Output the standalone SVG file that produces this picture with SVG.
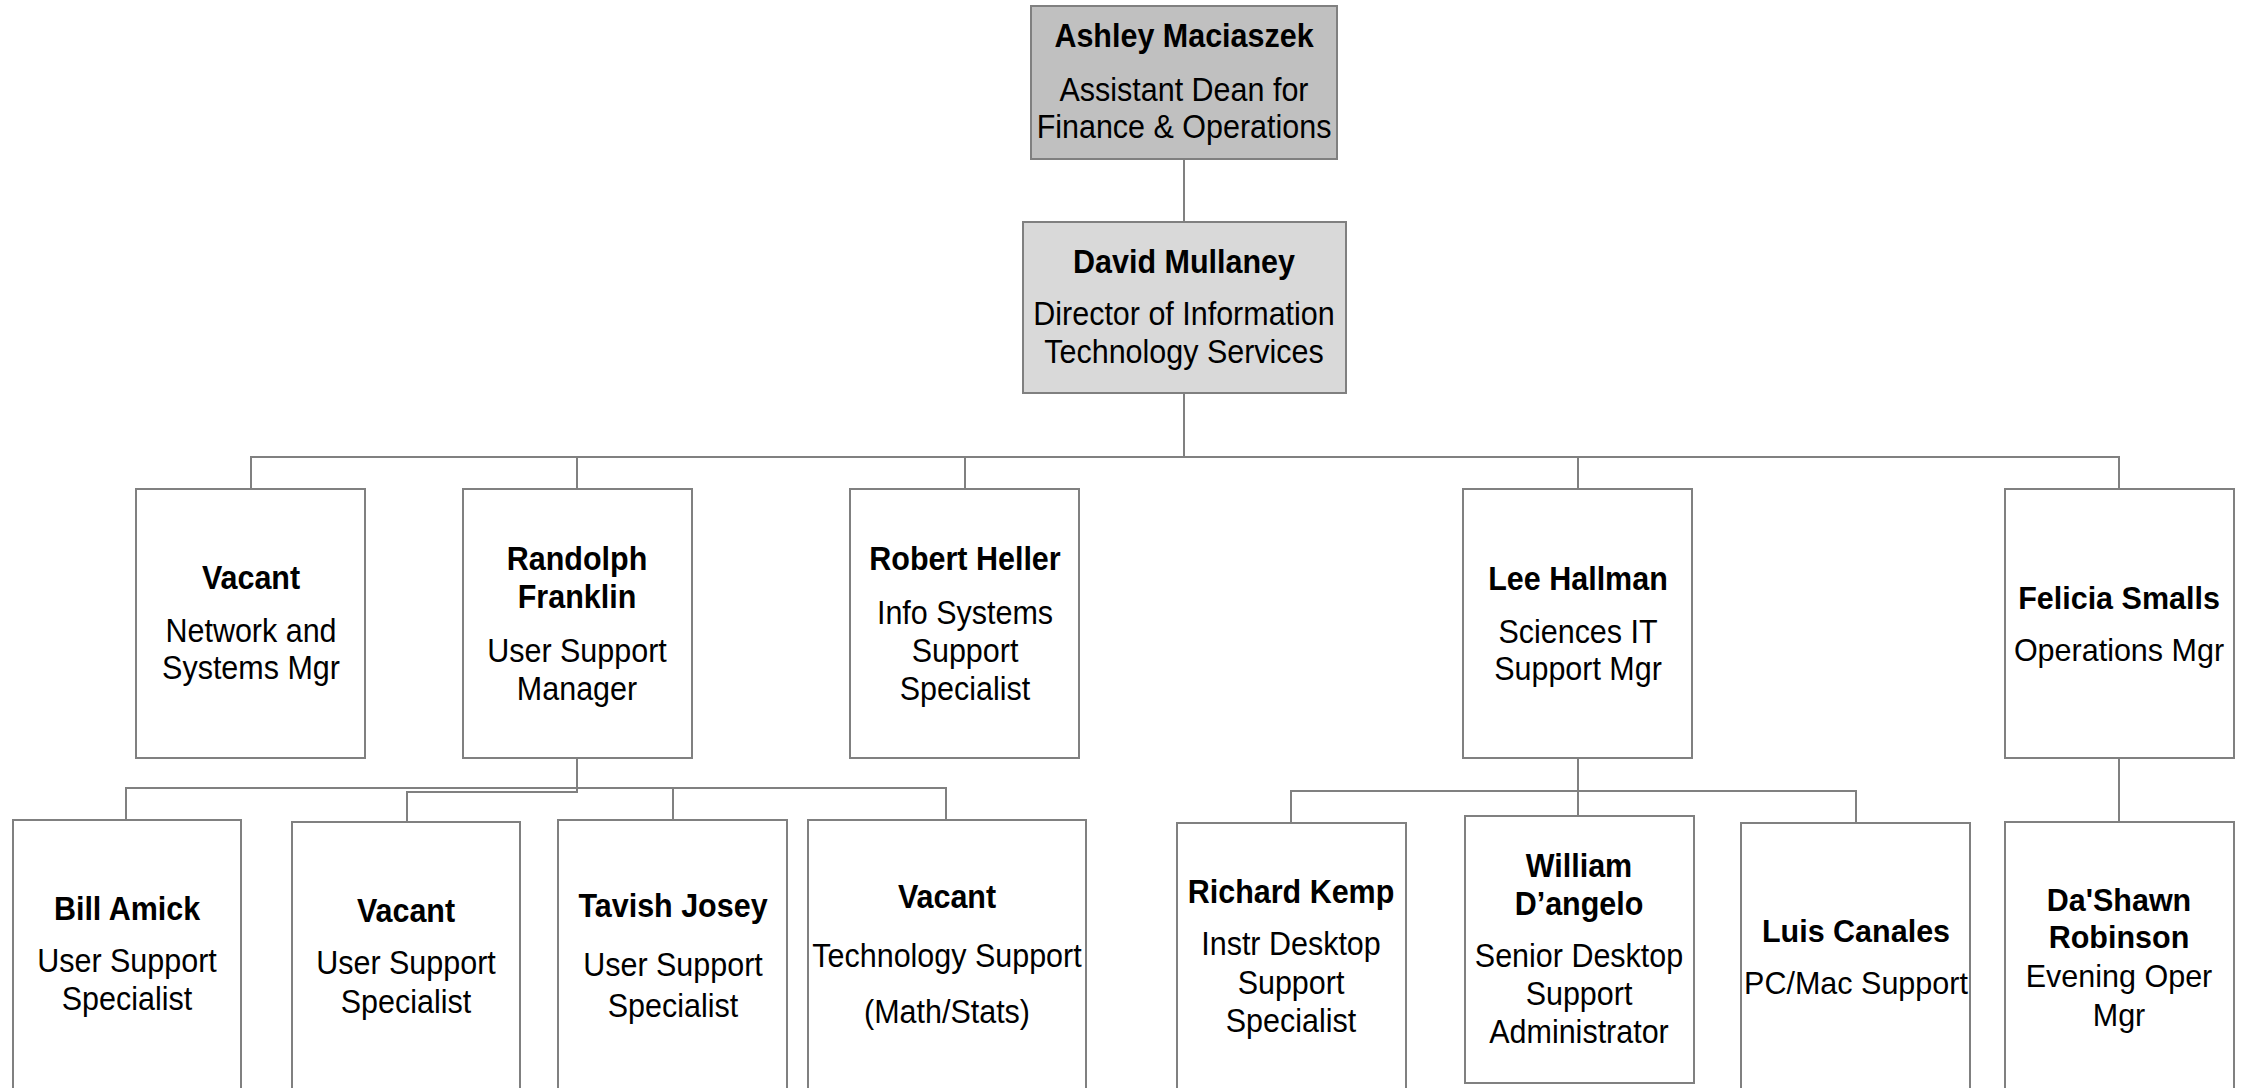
<svg xmlns="http://www.w3.org/2000/svg" width="2247" height="1088" viewBox="0 0 2247 1088">
<style>
.box{fill:#ffffff;stroke:#808080;stroke-width:2}
.top1{fill:#c0c0c0}
.top2{fill:#d9d9d9}
.c{fill:none;stroke:#808080;stroke-width:2}
text{font-family:"Liberation Sans",Arial,Helvetica,sans-serif;font-size:33.5px;fill:#000;text-anchor:middle}
.w text{font-size:30.5px}
.n{font-weight:bold}
</style>
<rect width="2247" height="1088" fill="#ffffff"/>
<g id="connectors">
<path class="c" d="M1184,159 V222"/>
<path class="c" d="M1184,393 V457"/>
<path class="c" d="M251,489 V457 H2119 V489"/>
<path class="c" d="M577,457 V489 M965,457 V489 M1578,457 V489"/>
<path class="c" d="M577,758 V788 H126 V820"/>
<path class="c" d="M577,758 V792 H407 V822"/>
<path class="c" d="M577,788 H946 V820 M673,788 V820"/>
<path class="c" d="M1578,758 V816"/>
<path class="c" d="M1291,823 V791 H1856 V823"/>
<path class="c" d="M2119,758 V822"/>
</g>
<g id="ashley">
<rect class="box top1" x="1031" y="6" width="306" height="153"/>
<g transform="translate(1184 0) scale(0.91 1)">
<text class="n" x="0" y="47">Ashley Maciaszek</text>
<text x="0" y="101">Assistant Dean for</text>
<text x="0" y="138">Finance &amp; Operations</text>
</g>
</g>
<g id="david">
<rect class="box top2" x="1023" y="222" width="323" height="171"/>
<g transform="translate(1184 0) scale(0.91 1)">
<text class="n" x="0" y="273">David Mullaney</text>
<text x="0" y="325">Director of Information</text>
<text x="0" y="363">Technology Services</text>
</g>
</g>
<g id="vacant-network">
<rect class="box" x="136" y="489" width="229" height="269"/>
<g transform="translate(251 0) scale(0.91 1)">
<text class="n" x="0" y="589">Vacant</text>
<text x="0" y="642">Network and</text>
<text x="0" y="679">Systems Mgr</text>
</g>
</g>
<g id="randolph">
<rect class="box" x="463" y="489" width="229" height="269"/>
<g transform="translate(577 0) scale(0.91 1)">
<text class="n" x="0" y="570">Randolph</text>
<text class="n" x="0" y="608">Franklin</text>
<text x="0" y="662">User Support</text>
<text x="0" y="700">Manager</text>
</g>
</g>
<g id="robert">
<rect class="box" x="850" y="489" width="229" height="269"/>
<g transform="translate(965 0) scale(0.91 1)">
<text class="n" x="0" y="570">Robert Heller</text>
<text x="0" y="624">Info Systems</text>
<text x="0" y="662">Support</text>
<text x="0" y="700">Specialist</text>
</g>
</g>
<g id="lee">
<rect class="box" x="1463" y="489" width="229" height="269"/>
<g transform="translate(1578 0) scale(0.91 1)">
<text class="n" x="0" y="590">Lee Hallman</text>
<text x="0" y="643">Sciences IT</text>
<text x="0" y="680">Support Mgr</text>
</g>
</g>
<g id="felicia" class="w">
<rect class="box" x="2005" y="489" width="229" height="269"/>
<text class="n" x="2119" y="609">Felicia Smalls</text>
<text x="2119" y="661">Operations Mgr</text>
</g>
<g id="bill">
<rect class="box" x="13" y="820" width="228" height="290"/>
<g transform="translate(127 0) scale(0.91 1)">
<text class="n" x="0" y="920">Bill Amick</text>
<text x="0" y="972">User Support</text>
<text x="0" y="1010">Specialist</text>
</g>
</g>
<g id="vacant-user">
<rect class="box" x="292" y="822" width="228" height="290"/>
<g transform="translate(406 0) scale(0.91 1)">
<text class="n" x="0" y="922">Vacant</text>
<text x="0" y="974">User Support</text>
<text x="0" y="1013">Specialist</text>
</g>
</g>
<g id="tavish">
<rect class="box" x="558" y="820" width="229" height="290"/>
<g transform="translate(673 0) scale(0.91 1)">
<text class="n" x="0" y="917">Tavish Josey</text>
<text x="0" y="976">User Support</text>
<text x="0" y="1017">Specialist</text>
</g>
</g>
<g id="vacant-tech">
<rect class="box" x="808" y="820" width="278" height="290"/>
<g transform="translate(947 0) scale(0.91 1)">
<text class="n" x="0" y="908">Vacant</text>
<text x="0" y="967">Technology Support</text>
<text x="0" y="1023">(Math/Stats)</text>
</g>
</g>
<g id="richard">
<rect class="box" x="1177" y="823" width="229" height="290"/>
<g transform="translate(1291 0) scale(0.91 1)">
<text class="n" x="0" y="903">Richard Kemp</text>
<text x="0" y="955">Instr Desktop</text>
<text x="0" y="994">Support</text>
<text x="0" y="1032">Specialist</text>
</g>
</g>
<g id="william">
<rect class="box" x="1465" y="816" width="229" height="267"/>
<g transform="translate(1579 0) scale(0.91 1)">
<text class="n" x="0" y="877">William</text>
<text class="n" x="0" y="915">D’angelo</text>
<text x="0" y="967">Senior Desktop</text>
<text x="0" y="1005">Support</text>
<text x="0" y="1043">Administrator</text>
</g>
</g>
<g id="luis" class="w">
<rect class="box" x="1741" y="823" width="229" height="290"/>
<text class="n" x="1856" y="942">Luis Canales</text>
<text x="1856" y="994">PC/Mac Support</text>
</g>
<g id="dashawn" class="w">
<rect class="box" x="2005" y="822" width="229" height="290"/>
<text class="n" x="2119" y="911">Da'Shawn</text>
<text class="n" x="2119" y="948">Robinson</text>
<text x="2119" y="987">Evening Oper</text>
<text x="2119" y="1026">Mgr</text>
</g>
</svg>
